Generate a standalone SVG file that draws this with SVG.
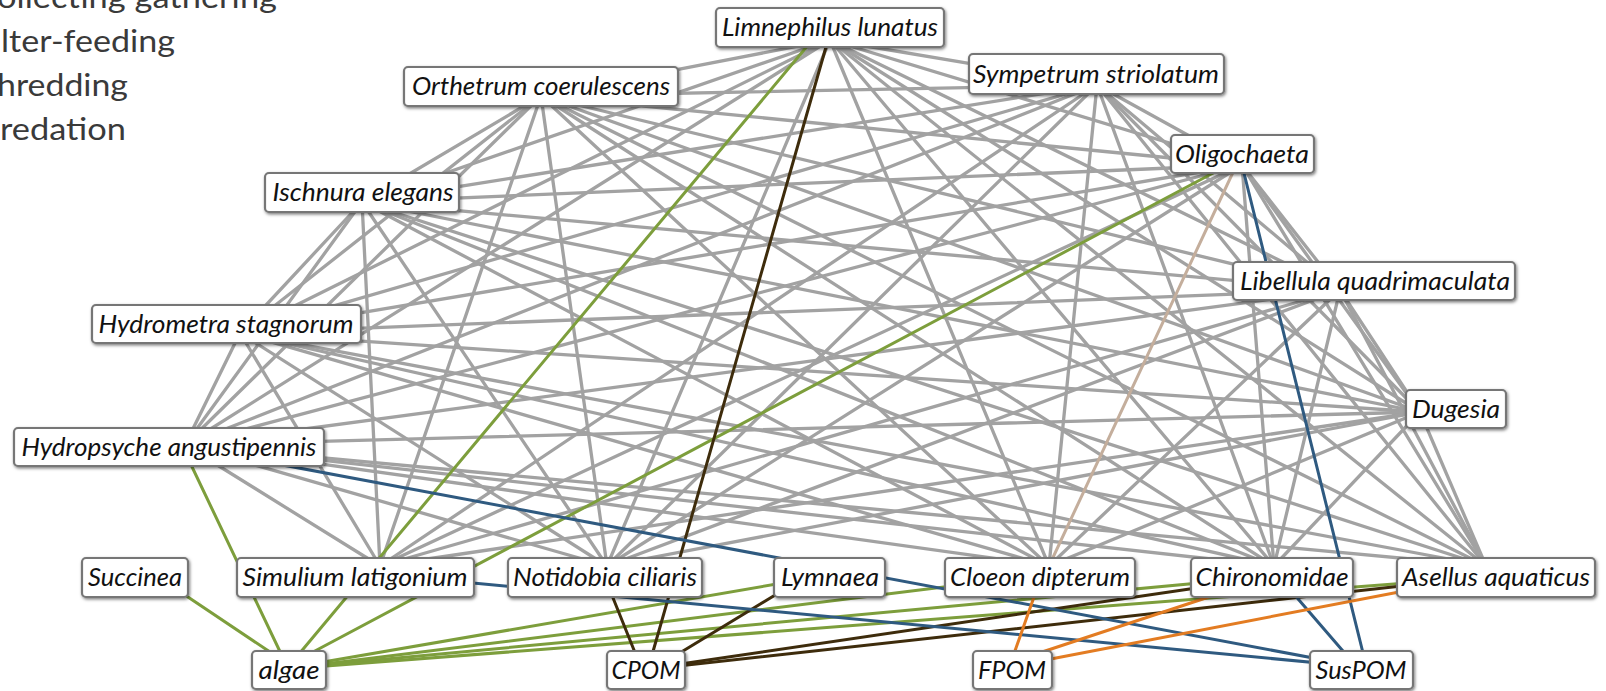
<svg xmlns="http://www.w3.org/2000/svg" width="1606" height="691" viewBox="0 0 1606 691">
<style>
.leg{font-family:Lato,"Open Sans","Liberation Sans",sans-serif;font-size:31px;fill:#3a3a3a}
.node rect{fill:#fff;stroke:#767676;stroke-width:2.2;filter:url(#sh)}
.node text{font-family:Lato,"Open Sans","Liberation Sans",sans-serif;font-style:italic;font-size:25px;fill:#111;text-anchor:middle}
.g line{stroke:#a2a2a2;stroke-width:3.3;stroke-linecap:round}
.c line{stroke-width:3;stroke-linecap:round}
.gr{stroke:#7d9e3c}
.br{stroke:#3e2c0c}
.bl{stroke:#2f5a80}
.or{stroke:#e37c22}
.tn{stroke:#c4ae9c}
</style>
<defs>
<filter id="sh" x="-10%" y="-20%" width="120%" height="150%">
<feDropShadow dx="1" dy="1.5" stdDeviation="1.8" flood-color="#000" flood-opacity="0.5"/>
</filter>
</defs>
<rect width="1606" height="691" fill="#fff"/>
<g id="legend">
<text class="leg" x="-3" y="8" textLength="280" lengthAdjust="spacingAndGlyphs">ollecting gathering</text>
<text class="leg" x="1" y="52" textLength="174" lengthAdjust="spacingAndGlyphs">lter-feeding</text>
<text class="leg" x="-3" y="96" textLength="131" lengthAdjust="spacingAndGlyphs">hredding</text>
<text class="leg" x="0" y="140" textLength="126" lengthAdjust="spacingAndGlyphs">redation</text>
</g>
<g id="connectors">
<g class="g">
<line x1="830" y1="40" x2="541" y2="96"/>
<line x1="830" y1="40" x2="1097" y2="85"/>
<line x1="830" y1="40" x2="362" y2="202"/>
<line x1="830" y1="40" x2="240" y2="333"/>
<line x1="830" y1="40" x2="185" y2="445"/>
<line x1="830" y1="40" x2="1242" y2="165"/>
<line x1="830" y1="40" x2="1340" y2="290"/>
<line x1="830" y1="40" x2="1420" y2="412"/>
<line x1="830" y1="40" x2="607" y2="566"/>
<line x1="830" y1="40" x2="1049" y2="566"/>
<line x1="830" y1="40" x2="1274" y2="566"/>
<line x1="830" y1="40" x2="1486" y2="566"/>
<line x1="541" y1="96" x2="1097" y2="85"/>
<line x1="541" y1="96" x2="362" y2="202"/>
<line x1="541" y1="96" x2="240" y2="333"/>
<line x1="541" y1="96" x2="185" y2="445"/>
<line x1="541" y1="96" x2="1242" y2="165"/>
<line x1="541" y1="96" x2="1340" y2="290"/>
<line x1="541" y1="96" x2="1420" y2="412"/>
<line x1="541" y1="96" x2="380" y2="566"/>
<line x1="541" y1="96" x2="607" y2="566"/>
<line x1="541" y1="96" x2="1049" y2="566"/>
<line x1="541" y1="96" x2="1274" y2="566"/>
<line x1="541" y1="96" x2="1486" y2="566"/>
<line x1="1097" y1="85" x2="362" y2="202"/>
<line x1="1097" y1="85" x2="240" y2="333"/>
<line x1="1097" y1="85" x2="185" y2="445"/>
<line x1="1097" y1="85" x2="1242" y2="165"/>
<line x1="1097" y1="85" x2="1340" y2="290"/>
<line x1="1097" y1="85" x2="1420" y2="412"/>
<line x1="1097" y1="85" x2="380" y2="566"/>
<line x1="1097" y1="85" x2="607" y2="566"/>
<line x1="1097" y1="85" x2="1049" y2="566"/>
<line x1="1097" y1="85" x2="1274" y2="566"/>
<line x1="1097" y1="85" x2="1486" y2="566"/>
<line x1="362" y1="202" x2="1242" y2="165"/>
<line x1="362" y1="202" x2="1340" y2="290"/>
<line x1="362" y1="202" x2="1420" y2="412"/>
<line x1="362" y1="202" x2="240" y2="333"/>
<line x1="362" y1="202" x2="185" y2="445"/>
<line x1="362" y1="202" x2="380" y2="566"/>
<line x1="362" y1="202" x2="607" y2="566"/>
<line x1="362" y1="202" x2="1049" y2="566"/>
<line x1="362" y1="202" x2="1274" y2="566"/>
<line x1="362" y1="202" x2="1486" y2="566"/>
<line x1="1242" y1="165" x2="240" y2="333"/>
<line x1="1242" y1="165" x2="185" y2="445"/>
<line x1="1242" y1="165" x2="1340" y2="290"/>
<line x1="1242" y1="165" x2="1420" y2="412"/>
<line x1="1242" y1="165" x2="607" y2="566"/>
<line x1="1242" y1="165" x2="1274" y2="566"/>
<line x1="1242" y1="165" x2="1486" y2="566"/>
<line x1="1242" y1="165" x2="380" y2="566"/>
<line x1="1340" y1="290" x2="240" y2="333"/>
<line x1="1340" y1="290" x2="185" y2="445"/>
<line x1="1340" y1="290" x2="1420" y2="412"/>
<line x1="1340" y1="290" x2="380" y2="566"/>
<line x1="1340" y1="290" x2="607" y2="566"/>
<line x1="1340" y1="290" x2="1049" y2="566"/>
<line x1="1340" y1="290" x2="1274" y2="566"/>
<line x1="1340" y1="290" x2="1486" y2="566"/>
<line x1="240" y1="333" x2="185" y2="445"/>
<line x1="240" y1="333" x2="1420" y2="412"/>
<line x1="240" y1="333" x2="380" y2="566"/>
<line x1="240" y1="333" x2="607" y2="566"/>
<line x1="240" y1="333" x2="1049" y2="566"/>
<line x1="240" y1="333" x2="1274" y2="566"/>
<line x1="240" y1="333" x2="1486" y2="566"/>
<line x1="1420" y1="412" x2="185" y2="445"/>
<line x1="1420" y1="412" x2="380" y2="566"/>
<line x1="1420" y1="412" x2="607" y2="566"/>
<line x1="1420" y1="412" x2="1049" y2="566"/>
<line x1="1420" y1="412" x2="1274" y2="566"/>
<line x1="1420" y1="412" x2="1486" y2="566"/>
<line x1="185" y1="445" x2="380" y2="566"/>
<line x1="185" y1="445" x2="607" y2="566"/>
<line x1="185" y1="445" x2="1049" y2="566"/>
<line x1="185" y1="445" x2="1274" y2="566"/>
<line x1="185" y1="445" x2="1486" y2="566"/>
</g>
<g class="c">
<line class="tn" x1="1235" y1="168" x2="1049" y2="566"/>
<line class="gr" x1="184" y1="450" x2="284" y2="660"/>
<line class="gr" x1="170" y1="585" x2="285" y2="662"/>
<line class="gr" x1="809" y1="44" x2="294" y2="660"/>
<line class="gr" x1="1215" y1="172" x2="298" y2="660"/>
<line class="gr" x1="300" y1="666" x2="800" y2="580"/>
<line class="gr" x1="300" y1="667" x2="960" y2="585"/>
<line class="gr" x1="300" y1="667" x2="1210" y2="582"/>
<line class="gr" x1="300" y1="668" x2="1420" y2="582"/>
<line class="br" x1="828" y1="40" x2="650" y2="662"/>
<line class="br" x1="605" y1="578" x2="640" y2="665"/>
<line class="br" x1="800" y1="580" x2="660" y2="665"/>
<line class="br" x1="660" y1="667" x2="1210" y2="586"/>
<line class="br" x1="660" y1="668" x2="1420" y2="584"/>
<line class="bl" x1="240" y1="457" x2="1340" y2="663"/>
<line class="bl" x1="420" y1="578" x2="1340" y2="665"/>
<line class="bl" x1="1280" y1="578" x2="1355" y2="665"/>
<line class="bl" x1="1242" y1="165" x2="1366" y2="665"/>
<line class="or" x1="1040" y1="580" x2="1010" y2="665"/>
<line class="or" x1="1230" y1="590" x2="1030" y2="656"/>
<line class="or" x1="1420" y1="588" x2="1030" y2="663"/>
</g>
</g>
<g id="n-limnephilus" class="node"><rect x="716" y="8" width="228" height="39" rx="4"/><text x="830" y="36" textLength="216" lengthAdjust="spacingAndGlyphs">Limnephilus lunatus</text></g>
<g id="n-orthetrum" class="node"><rect x="404" y="67" width="274" height="39" rx="4"/><text x="541" y="95" textLength="258" lengthAdjust="spacingAndGlyphs">Orthetrum coerulescens</text></g>
<g id="n-sympetrum" class="node"><rect x="969" y="54" width="255" height="40" rx="4"/><text x="1096" y="83" textLength="246" lengthAdjust="spacingAndGlyphs">Sympetrum striolatum</text></g>
<g id="n-oligochaeta" class="node"><rect x="1171" y="135" width="143" height="38" rx="4"/><text x="1242" y="163" textLength="134" lengthAdjust="spacingAndGlyphs">Oligochaeta</text></g>
<g id="n-ischnura" class="node"><rect x="265" y="173" width="194" height="39" rx="4"/><text x="363" y="201" textLength="181" lengthAdjust="spacingAndGlyphs">Ischnura elegans</text></g>
<g id="n-libellula" class="node"><rect x="1233" y="262" width="282" height="38" rx="4"/><text x="1375" y="290" textLength="270" lengthAdjust="spacingAndGlyphs">Libellula quadrimaculata</text></g>
<g id="n-hydrometra" class="node"><rect x="92" y="305" width="269" height="38" rx="4"/><text x="226" y="333" textLength="255" lengthAdjust="spacingAndGlyphs">Hydrometra stagnorum</text></g>
<g id="n-dugesia" class="node"><rect x="1406" y="390" width="100" height="38" rx="4"/><text x="1456" y="418" textLength="88" lengthAdjust="spacingAndGlyphs">Dugesia</text></g>
<g id="n-hydropsyche" class="node"><rect x="14" y="428" width="310" height="38" rx="4"/><text x="169" y="456" textLength="295" lengthAdjust="spacingAndGlyphs">Hydropsyche angustipennis</text></g>
<g id="n-succinea" class="node"><rect x="82" y="558" width="106" height="39" rx="4"/><text x="135" y="586" textLength="94" lengthAdjust="spacingAndGlyphs">Succinea</text></g>
<g id="n-simulium" class="node"><rect x="237" y="558" width="237" height="39" rx="4"/><text x="355" y="586" textLength="225" lengthAdjust="spacingAndGlyphs">Simulium latigonium</text></g>
<g id="n-notidobia" class="node"><rect x="508" y="558" width="194" height="39" rx="4"/><text x="605" y="586" textLength="184" lengthAdjust="spacingAndGlyphs">Notidobia ciliaris</text></g>
<g id="n-lymnaea" class="node"><rect x="774" y="558" width="111" height="39" rx="4"/><text x="830" y="586" textLength="98" lengthAdjust="spacingAndGlyphs">Lymnaea</text></g>
<g id="n-cloeon" class="node"><rect x="945" y="558" width="190" height="39" rx="4"/><text x="1040" y="586" textLength="180" lengthAdjust="spacingAndGlyphs">Cloeon dipterum</text></g>
<g id="n-chironomidae" class="node"><rect x="1191" y="558" width="162" height="39" rx="4"/><text x="1272" y="586" textLength="153" lengthAdjust="spacingAndGlyphs">Chironomidae</text></g>
<g id="n-asellus" class="node"><rect x="1397" y="558" width="198" height="39" rx="4"/><text x="1496" y="586" textLength="188" lengthAdjust="spacingAndGlyphs">Asellus aquaticus</text></g>
<g id="n-algae" class="node"><rect x="252" y="651" width="74" height="38" rx="4"/><text x="289" y="679" textLength="61" lengthAdjust="spacingAndGlyphs">algae</text></g>
<g id="n-cpom" class="node"><rect x="607" y="651" width="78" height="38" rx="4"/><text x="646" y="679" textLength="69" lengthAdjust="spacingAndGlyphs">CPOM</text></g>
<g id="n-fpom" class="node"><rect x="973" y="651" width="79" height="38" rx="4"/><text x="1012" y="679" textLength="68" lengthAdjust="spacingAndGlyphs">FPOM</text></g>
<g id="n-suspom" class="node"><rect x="1310" y="651" width="103" height="38" rx="4"/><text x="1361" y="679" textLength="91" lengthAdjust="spacingAndGlyphs">SusPOM</text></g>
</svg>
